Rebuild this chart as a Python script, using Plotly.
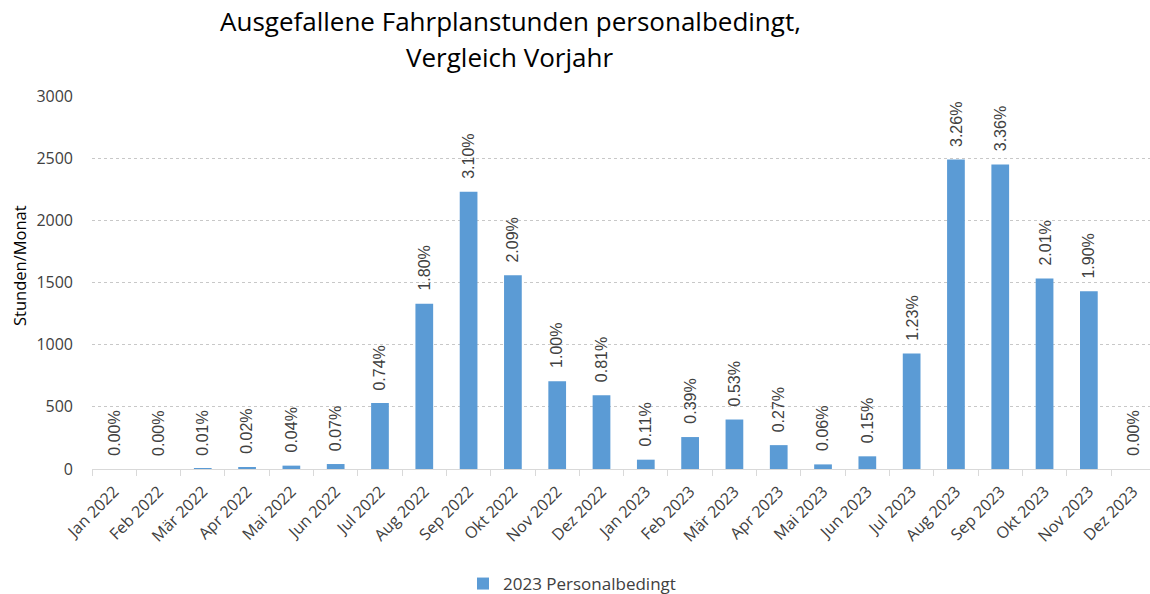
import plotly.graph_objects as go

months = ["Jan 2022", "Feb 2022", "Mär 2022", "Apr 2022", "Mai 2022", "Jun 2022",
          "Jul 2022", "Aug 2022", "Sep 2022", "Okt 2022", "Nov 2022", "Dez 2022",
          "Jan 2023", "Feb 2023", "Mär 2023", "Apr 2023", "Mai 2023", "Jun 2023",
          "Jul 2023", "Aug 2023", "Sep 2023", "Okt 2023", "Nov 2023", "Dez 2023"]
hours = [0, 0, 5, 14, 27, 40, 530, 1329, 2230, 1559, 706, 594,
         75, 257, 398, 192, 37, 102, 928, 2489, 2449, 1532, 1430, 0]
pct_labels = ["0.00%", "0.00%", "0.01%", "0.02%", "0.04%", "0.07%",
              "0.74%", "1.80%", "3.10%", "2.09%", "1.00%", "0.81%",
              "0.11%", "0.39%", "0.53%", "0.27%", "0.06%", "0.15%",
              "1.23%", "3.26%", "3.36%", "2.01%", "1.90%", "0.00%"]
series_name = "2023 Personalbedingt"
y_ticks = [0, 500, 1000, 1500, 2000, 2500, 3000]

W, H = 1150, 594
L, R, T, B = 92, 0, 96, 125
pw = W - L - R
ph = H - T - B


def px_x(x):
    return (x - L) / pw


def px_y(y):
    return (H - B - y) / ph


fig = go.Figure()
fig.add_trace(go.Bar(
    x=months, y=hours, name=series_name,
    marker=dict(color="#5B9BD5", line=dict(width=0)),
))

label_annotations = [
    dict(x=m, y=v, text=t, xref="x", yref="y", showarrow=False,
         textangle=-90, xanchor="center", yanchor="bottom", yshift=11,
         font=dict(family="Liberation Sans", size=16, color="#404040"))
    for m, v, t in zip(months, hours, pct_labels)
]

fig.update_layout(
    width=W, height=H,
    margin=dict(l=L, r=R, t=T, b=B, autoexpand=False),
    paper_bgcolor="white", plot_bgcolor="white",
    bargap=0.6,
    showlegend=True,
    legend=dict(orientation="h", x=px_x(463), xanchor="left",
                y=px_y(584), yanchor="middle",
                font=dict(family="Open Sans", size=17, color="#404040")),
    xaxis=dict(
        type="category", range=[-0.5, 23.38],
        tickangle=-45, tickfont=dict(family="Open Sans", size=16, color="#404040"),
        showline=True, linecolor="#D9D9D9", linewidth=1,
        ticks="outside", tickson="boundaries", ticklen=6, tickcolor="#D9D9D9",
        showgrid=False, ticklabelstandoff=6, automargin=False,
    ),
    yaxis=dict(
        range=[0, 3000], tickvals=y_ticks,
        tickfont=dict(family="Open Sans", size=16, color="#404040"),
        showgrid=True, gridcolor="#C8C8C8", griddash="dot", gridwidth=1,
        zeroline=False, ticks="", ticklabelstandoff=18, automargin=False,
    ),
    annotations=label_annotations + [
        dict(text="Ausgefallene Fahrplanstunden personalbedingt,", xref="paper", yref="paper",
             x=px_x(510), y=px_y(21), xanchor="center", yanchor="middle", showarrow=False,
             font=dict(family="Open Sans", size=26, color="#000000")),
        dict(text="Vergleich Vorjahr", xref="paper", yref="paper",
             x=px_x(509), y=px_y(57), xanchor="center", yanchor="middle", showarrow=False,
             font=dict(family="Open Sans", size=26, color="#000000")),
        dict(text="Stunden/Monat", xref="paper", yref="paper",
             x=px_x(19), y=px_y(266), xanchor="center", yanchor="middle", showarrow=False,
             textangle=-90, font=dict(family="Open Sans", size=16.5, color="#000000")),
    ],
)

fig.write_html("out.html", config={"displayModeBar": False},
               post_script="document.body.style.margin='0';")
